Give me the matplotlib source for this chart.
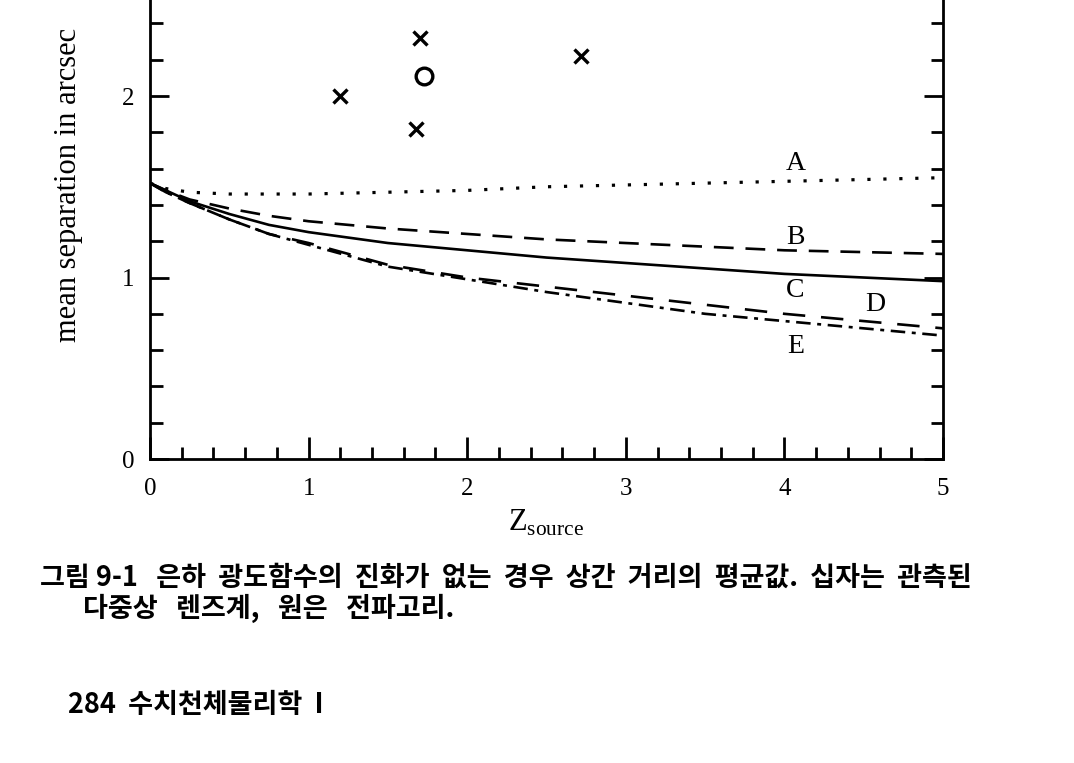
import numpy as np
import matplotlib
matplotlib.use("Agg")
import matplotlib.pyplot as plt
from matplotlib.ticker import MultipleLocator

plt.rcParams['font.family'] = ['Liberation Serif', 'DejaVu Serif']
plt.rcParams['mathtext.fontset'] = 'custom'
plt.rcParams['mathtext.rm'] = 'Liberation Serif'

# curves
z = [0, 0.1, 0.25, 0.5, 0.75, 1, 1.5, 2, 2.5, 3, 3.5, 4, 4.5, 5]
curve_A = [1.52, 1.49, 1.47, 1.46, 1.46, 1.46, 1.47, 1.48, 1.50, 1.51, 1.52, 1.53, 1.54, 1.55]
curve_B = [1.52, 1.48, 1.43, 1.38, 1.34, 1.31, 1.27, 1.24, 1.21, 1.19, 1.17, 1.15, 1.14, 1.13]
curve_C = [1.52, 1.48, 1.42, 1.35, 1.29, 1.25, 1.19, 1.15, 1.11, 1.08, 1.05, 1.02, 1.00, 0.98]
curve_D = [1.52, 1.47, 1.41, 1.32, 1.24, 1.19, 1.07, 1.00, 0.95, 0.90, 0.85, 0.80, 0.76, 0.72]
curve_E = [1.52, 1.47, 1.41, 1.32, 1.24, 1.18, 1.06, 0.99, 0.92, 0.86, 0.80, 0.76, 0.72, 0.68]

# observed multiple-image lenses (crosses) and radio ring (circle)
lens_z = [1.2, 1.7, 1.68, 2.72]
lens_sep = [2.0, 2.32, 1.82, 2.22]
ring_z = [1.73]
ring_sep = [2.11]

labels = ['A', 'B', 'C', 'D', 'E']
label_z = [4.07, 4.07, 4.07, 4.57, 4.07]
label_y = [1.63, 1.22, 0.93, 0.85, 0.62]

fig = plt.figure(figsize=(10.74, 7.63), dpi=100)
ax = fig.add_axes([0.1397, 0.3984, 0.7383, 0.6016])

lw = 1.9
ax.plot(z, curve_A, color='black', lw=2.3, linestyle=(0, (1.0, 4.0)))
ax.plot(z, curve_B, color='black', lw=lw, linestyle=(0, (7.5, 4.5)))
ax.plot(z, curve_C, color='black', lw=lw, linestyle='-')
ax.plot(z, curve_D, color='black', lw=lw, linestyle=(0, (8.5, 6)))
ax.plot(z, curve_E, color='black', lw=lw, linestyle=(0, (5.5, 2.5, 1.5, 2.5)))

ax.plot(lens_z, lens_sep, 'x', color='black', ms=10, mew=2.4)
ax.plot(ring_z, ring_sep, 'o', color='black', mfc='none', ms=12, mew=2.4)

for lab, lz, ly in zip(labels, label_z, label_y):
    ax.text(lz, ly, lab, fontsize=20, ha='center', va='center')

ax.set_xlim(0, 5)
ax.set_ylim(0, 2.529)
ax.xaxis.set_major_locator(MultipleLocator(1))
ax.xaxis.set_minor_locator(MultipleLocator(0.2))
ax.yaxis.set_major_locator(MultipleLocator(1))
ax.yaxis.set_minor_locator(MultipleLocator(0.2))
ax.tick_params(which='both', direction='in', left=True, right=True, top=False,
               width=2, labelsize=18)
ax.tick_params(which='major', length=16)
ax.tick_params(which='minor', length=9)
ax.tick_params(axis='x', which='major', pad=14)
ax.tick_params(axis='y', which='major', length=14, pad=11)
for s in ['left', 'right', 'bottom']:
    ax.spines[s].set_linewidth(2)
ax.spines['top'].set_visible(False)

ax.set_xlabel(r'Z$_{\mathrm{source}}$', fontsize=22, labelpad=5)
ax.set_ylabel('mean separation in arcsec', fontsize=22)
ax.yaxis.set_label_coords(-0.084, 0.597)

kr = ['Noto Sans CJK KR', 'DejaVu Sans']
fig.text(40 / 1074, 1 - 578 / 763,
         '그림 9-1   은하  광도함수의  진화가  없는  경우  상간  거리의  평균값.  십자는  관측된',
         family=kr, weight='bold', fontsize=19.5, va='center', ha='left')
fig.text(83 / 1074, 1 - 608 / 763, '다중상   렌즈계,   원은   전파고리.',
         family=kr, weight='bold', fontsize=19.5, va='center', ha='left')
fig.text(68 / 1074, 1 - 705 / 763, '284  수치천체물리학  I',
         family=kr, weight='bold', fontsize=19.5, va='center', ha='left')

fig.savefig('out.png', dpi=100)
